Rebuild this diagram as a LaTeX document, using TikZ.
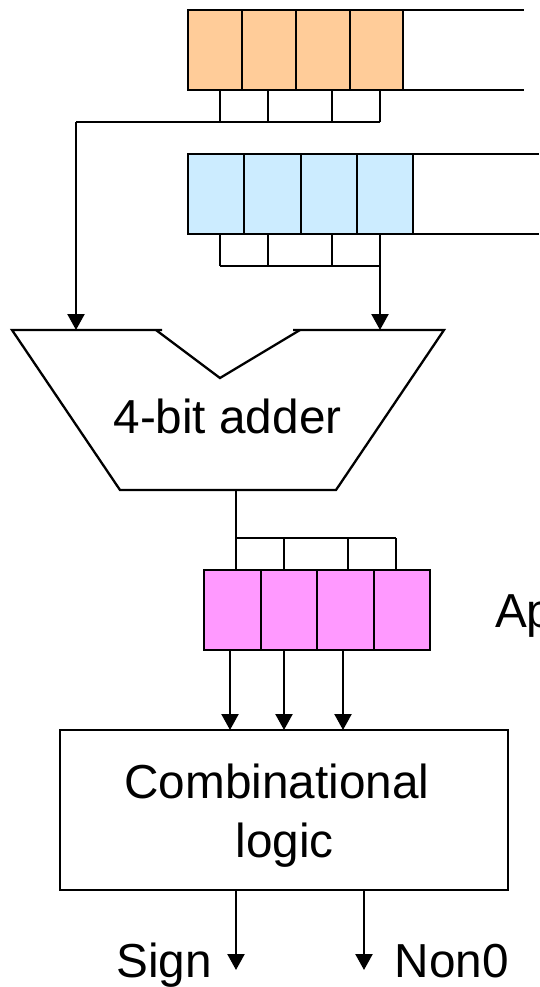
\documentclass[tikz,border=0pt]{standalone}
\usepackage{fontspec}
\setmainfont{Liberation Sans}
\usetikzlibrary{arrows.meta}
\definecolor{regorange}{HTML}{FFCC99}
\definecolor{regblue}{HTML}{CCECFF}
\definecolor{regpink}{HTML}{FF99FF}
\tikzset{
  wire/.style={line width=2.3pt,line cap=butt},
  arrowwire/.style={wire,-{Triangle[width=17pt,length=16pt]}},
  cell/.style={draw,line width=2.3pt,inner sep=0pt,outer sep=0pt,anchor=north west,minimum height=80pt},
  lbl/.style={inner sep=0pt,outer sep=0pt,font=\fontsize{47.7}{56}\selectfont,anchor=base}
}
\begin{document}
\begin{tikzpicture}[x=1pt,y=-1pt]
\useasboundingbox (0,0) rectangle (539,987);
\clip (0,0) rectangle (539,987);
% orange register
\node[cell,fill=regorange,minimum width=54pt] (o1) at (188,10) {};
\node[cell,fill=regorange,minimum width=54pt] (o2) at (242,10) {};
\node[cell,fill=regorange,minimum width=54pt] (o3) at (296,10) {};
\node[cell,fill=regorange,minimum width=53pt] (o4) at (350,10) {};
\coordinate (ote) at (524,10); \coordinate (obe) at (524,90);
\draw[wire] (o4.north east) -- (ote);
\draw[wire] (o4.south east) -- (obe);
% blue register
\node[cell,fill=regblue,minimum width=56pt] (b1) at (188,154) {};
\node[cell,fill=regblue,minimum width=57pt] (b2) at (244,154) {};
\node[cell,fill=regblue,minimum width=56pt] (b3) at (301,154) {};
\node[cell,fill=regblue,minimum width=56pt] (b4) at (357,154) {};
\coordinate (bte) at (539,154); \coordinate (bbe) at (539,234);
\draw[wire] (b4.north east) -- (bte);
\draw[wire] (b4.south east) -- (bbe);
% adder
\coordinate (al) at (12,330); \coordinate (alr) at (162,330);
\coordinate (nl) at (156,330); \coordinate (nb) at (220,378); \coordinate (nr) at (300,330);
\coordinate (arl) at (293,330); \coordinate (ar) at (444,330);
\coordinate (abr) at (336,490); \coordinate (abl) at (120,490);
\draw[wire,line join=miter] (alr) -- (al) -- (abl) -- (abr) -- (ar) -- (arl);
\draw[wire,line join=miter] (nl) -- (nb) -- (nr);
\node[lbl] (addertext) at (227.5,433) {4-bit adder};
% pink register
\node[cell,fill=regpink,minimum width=57pt] (p1) at (204,570) {};
\node[cell,fill=regpink,minimum width=56pt] (p2) at (261,570) {};
\node[cell,fill=regpink,minimum width=57pt] (p3) at (317,570) {};
\node[cell,fill=regpink,minimum width=56pt] (p4) at (374,570) {};
\node[lbl,anchor=base west] (aptext) at (495,627) {Ap};
% logic block
\node[draw,line width=2.3pt,inner sep=0pt,outer sep=0pt,anchor=north west,minimum width=448pt,minimum height=160pt] (logic) at (60,730) {};
\node[lbl] (l1) at (277,798) {Combinational};
\node[lbl] (l2) at (284.5,857) {logic};
\node[lbl] (sign) at (164,977) {Sign};
\node[lbl] (non) at (452,977) {Non0};
% orange bus
\coordinate (oa) at (220,90); \coordinate (ob) at (268,90); \coordinate (oc) at (332,90); \coordinate (od) at (380,90);
\coordinate (oah) at (220,122); \coordinate (obh) at (268,122); \coordinate (och) at (332,122); \coordinate (odh) at (380,122);
\coordinate (oleft) at (76,122); \coordinate (ain1) at (76,330);
\draw[wire] (oa) -- (oah); \draw[wire] (ob) -- (obh); \draw[wire] (oc) -- (och); \draw[wire] (od) -- (odh);
\draw[wire] (odh) -- (oleft);
\draw[arrowwire] (oleft) -- (ain1);
% blue bus
\coordinate (ba) at (220,234); \coordinate (bb) at (268,234); \coordinate (bc) at (332,234); \coordinate (bd) at (380,234);
\coordinate (bah) at (220,266); \coordinate (bbh) at (268,266); \coordinate (bch) at (332,266); \coordinate (bdh) at (380,266);
\coordinate (ain2) at (380,330);
\draw[wire] (ba) -- (bah); \draw[wire] (bb) -- (bbh); \draw[wire] (bc) -- (bch);
\draw[wire] (bah) -- (bdh);
\draw[arrowwire] (bd) -- (ain2);
% adder output bus
\coordinate (aout) at (236,490); \coordinate (pa) at (236,570);
\coordinate (pah) at (236,538); \coordinate (pbh) at (284,538); \coordinate (pch) at (348,538); \coordinate (pdh) at (396,538);
\coordinate (pb) at (284,570); \coordinate (pc) at (348,570); \coordinate (pd) at (396,570);
\draw[wire] (aout) -- (pa); \draw[wire] (pbh) -- (pb); \draw[wire] (pch) -- (pc); \draw[wire] (pdh) -- (pd);
\draw[wire] (pah) -- (pdh);
% into logic
\coordinate (q1) at (230,650); \coordinate (q2) at (284,650); \coordinate (q3) at (343,650);
\coordinate (r1) at (230,730); \coordinate (r2) at (284,730); \coordinate (r3) at (343,730);
\draw[arrowwire] (q1) -- (r1); \draw[arrowwire] (q2) -- (r2); \draw[arrowwire] (q3) -- (r3);
% outputs
\coordinate (s0) at (236,890); \coordinate (s1) at (236,970);
\coordinate (n0) at (364,890); \coordinate (n1) at (364,970);
\draw[arrowwire] (s0) -- (s1); \draw[arrowwire] (n0) -- (n1);
\end{tikzpicture}
\end{document}
